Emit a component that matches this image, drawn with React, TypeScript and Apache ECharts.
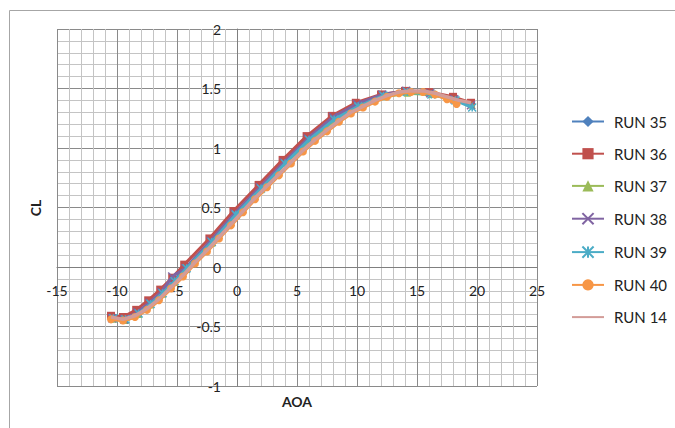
import React, { useEffect, useRef } from "react";
import * as echarts from "echarts";

const runNames = ["RUN 35", "RUN 36", "RUN 37", "RUN 38", "RUN 39", "RUN 40", "RUN 14"];
const runColors = ["#4F81BD", "#C0504D", "#9BBB59", "#8064A2", "#4BACC6", "#F79646", "#D39C98"];
const runSymbols = [
  "diamond",
  "rect",
  "triangle",
  "path://M0,0L10,10M10,0L0,10",
  "path://M5,0L5,10M0,0L10,10M10,0L0,10",
  "circle",
  "none",
];

const aoa35 = [-10.4, -9.4, -8.3, -7.3, -6.3, -5.3, -4.3, -2.2, -0.2, 1.9, 3.9, 6.0, 8.0, 10.1, 12.1, 14.1, 16.1, 18.1, 19.5];
const cl35 = [-0.43, -0.44, -0.39, -0.31, -0.22, -0.12, -0.01, 0.21, 0.44, 0.66, 0.88, 1.08, 1.25, 1.36, 1.44, 1.47, 1.46, 1.42, 1.37];
const aoa36 = [-10.5, -9.5, -8.4, -7.4, -6.4, -5.4, -4.4, -2.3, -0.3, 1.8, 3.8, 5.8, 7.9, 9.9, 12.0, 14.0, 16.0, 18.0, 19.5];
const cl36 = [-0.41, -0.42, -0.36, -0.28, -0.19, -0.09, 0.02, 0.24, 0.47, 0.69, 0.9, 1.1, 1.27, 1.38, 1.45, 1.48, 1.47, 1.43, 1.38];
const aoa37 = [-10.3, -9.3, -8.2, -7.2, -6.2, -5.2, -4.2, -2.1, -0.1, 2.0, 4.0, 6.1, 8.1, 10.1, 12.2, 14.2, 16.2, 18.2, 19.6];
const cl37 = [-0.44, -0.45, -0.4, -0.32, -0.23, -0.13, -0.02, 0.2, 0.43, 0.65, 0.87, 1.06, 1.23, 1.35, 1.43, 1.46, 1.45, 1.41, 1.36];
const aoa38 = [-10.4, -9.4, -8.3, -7.3, -6.3, -5.4, -4.3, -2.2, -0.2, 1.9, 3.9, 5.9, 8.0, 10.0, 12.1, 14.1, 16.1, 18.1, 19.5];
const cl38 = [-0.43, -0.44, -0.38, -0.3, -0.21, -0.08, -0.01, 0.22, 0.45, 0.67, 0.88, 1.08, 1.26, 1.37, 1.45, 1.48, 1.46, 1.41, 1.36];
const aoa39 = [-10.3, -9.3, -8.2, -7.2, -6.2, -5.2, -4.2, -2.1, -0.1, 2.0, 4.0, 6.0, 8.1, 10.1, 12.2, 14.2, 16.2, 18.2, 19.6];
const cl39 = [-0.43, -0.44, -0.39, -0.31, -0.22, -0.12, -0.01, 0.21, 0.44, 0.66, 0.87, 1.07, 1.24, 1.35, 1.44, 1.47, 1.45, 1.4, 1.34];
const aoa40 = [-10.5, -9.5, -8.5, -7.5, -6.5, -5.5, -4.5, -3.5, -2.5, -1.5, -0.5, 0.5, 1.5, 2.5, 3.5, 4.5, 5.5, 6.5, 7.5, 8.5, 9.5, 10.5, 11.5, 12.5, 13.5, 14.5, 15.5, 16.5, 17.5, 18.3];
const cl40 = [-0.44, -0.45, -0.42, -0.36, -0.28, -0.18, -0.08, 0.03, 0.13, 0.24, 0.35, 0.46, 0.57, 0.67, 0.77, 0.87, 0.97, 1.06, 1.14, 1.22, 1.29, 1.34, 1.39, 1.43, 1.46, 1.47, 1.47, 1.45, 1.41, 1.37];
const aoa14 = [-10.5, -9.5, -8.5, -7.5, -6.5, -5.5, -4.5, -3.5, -2.5, -1.5, -0.5, 0.5, 1.5, 2.5, 3.5, 4.5, 5.5, 6.5, 7.5, 8.5, 9.5, 10.5, 11.5, 12.5, 13.5, 14.5, 15.5, 16.5, 17.5, 18.5, 19.5];
const cl14 = [-0.42, -0.44, -0.41, -0.35, -0.27, -0.17, -0.07, 0.04, 0.14, 0.25, 0.36, 0.47, 0.58, 0.68, 0.78, 0.88, 0.98, 1.07, 1.15, 1.23, 1.3, 1.35, 1.4, 1.44, 1.47, 1.48, 1.48, 1.46, 1.43, 1.4, 1.38];

const runAoa = [aoa35, aoa36, aoa37, aoa38, aoa39, aoa40, aoa14];
const runCl = [cl35, cl36, cl37, cl38, cl39, cl40, cl14];

const FONT = "Lato";

export default function App() {
  const ref = useRef<HTMLDivElement>(null);
  useEffect(() => {
    if (!ref.current) return;
    const chart = echarts.init(ref.current, null, { renderer: "svg" });
    const series = runNames.map((name, i) => {
      const sym = runSymbols[i];
      const isPath = sym.startsWith("path://");
      return {
        name,
        type: "line",
        data: runAoa[i].map((x, k) => [x, runCl[i][k]]),
        symbol: sym,
        showSymbol: sym !== "none",
        symbolSize: isPath ? 8 : sym === "rect" ? 8 : sym === "circle" ? 8 : 7,
        lineStyle: { color: runColors[i], width: i >= 5 ? 3.5 : 3 },
        itemStyle: {
          color: isPath ? "none" : runColors[i],
          borderColor: runColors[i],
          borderWidth: isPath ? 1.5 : 0,
        },
        z: 2 + i,
      };
    });
    const legendData = runNames.map((name, i) =>
      runSymbols[i] === "none" ? { name, itemStyle: { opacity: 0 } } : { name }
    );
    chart.setOption({
      animation: false,
      backgroundColor: "#ffffff",
      textStyle: { fontFamily: FONT },
      grid: { left: 57, top: 29, width: 480, height: 357, containLabel: false, outerBoundsMode: "none" },
      legend: {
        orient: "vertical",
        left: 566,
        top: 109,
        itemWidth: 32,
        itemHeight: 14,
        itemGap: 17.2,
        data: legendData,
        textStyle: { fontFamily: FONT, fontSize: 15, color: "#222", padding: [0, 0, 0, 5] },
      },
      xAxis: {
        type: "value",
        min: -15,
        max: 25,
        interval: 5,
        offset: -118.5,
        axisLine: { show: true, onZero: false, lineStyle: { color: "#7f7f7f", width: 1 } },
        axisTick: { show: false },
        axisLabel: { margin: 16, fontFamily: FONT, fontSize: 14, color: "#222" },
        splitLine: { show: true, lineStyle: { color: "#8a8a8a", width: 1 } },
        minorTick: { show: false, splitNumber: 5 },
        minorSplitLine: { show: true, lineStyle: { color: "#c4c4c4", width: 1 } },
      },
      yAxis: {
        type: "value",
        min: -1,
        max: 2,
        interval: 0.5,
        offset: -180,
        axisLine: { show: true, onZero: false, lineStyle: { color: "#7f7f7f", width: 1 } },
        axisTick: { show: false },
        axisLabel: { margin: 16, fontFamily: FONT, fontSize: 14, color: "#222" },
        splitLine: { show: true, lineStyle: { color: "#8a8a8a", width: 1 } },
        minorTick: { show: false, splitNumber: 5 },
        minorSplitLine: { show: true, lineStyle: { color: "#c4c4c4", width: 1 } },
      },
      graphic: [
        {
          type: "rect",
          shape: { x: 9.5, y: 10.5, width: 700, height: 500 },
          style: { fill: "none", stroke: "#a6a6a6", lineWidth: 1 },
          silent: true,
        },
        {
          type: "text",
          x: 297,
          y: 401,
          style: {
            text: "AOA",
            fontFamily: FONT,
            fontSize: 14,
            fontWeight: "bold",
            fill: "#222",
            align: "center",
            verticalAlign: "middle",
          },
          silent: true,
        },
        {
          type: "text",
          x: 35,
          y: 208,
          rotation: Math.PI / 2,
          style: {
            text: "CL",
            fontFamily: FONT,
            fontSize: 14,
            fontWeight: "bold",
            fill: "#222",
            align: "center",
            verticalAlign: "middle",
          },
          silent: true,
        },
      ],
      series,
    });
    return () => chart.dispose();
  }, []);
  return (
    <div
      ref={ref}
      style={{ position: "absolute", left: 0, top: 0, width: 675, height: 428 }}
    />
  );
}
